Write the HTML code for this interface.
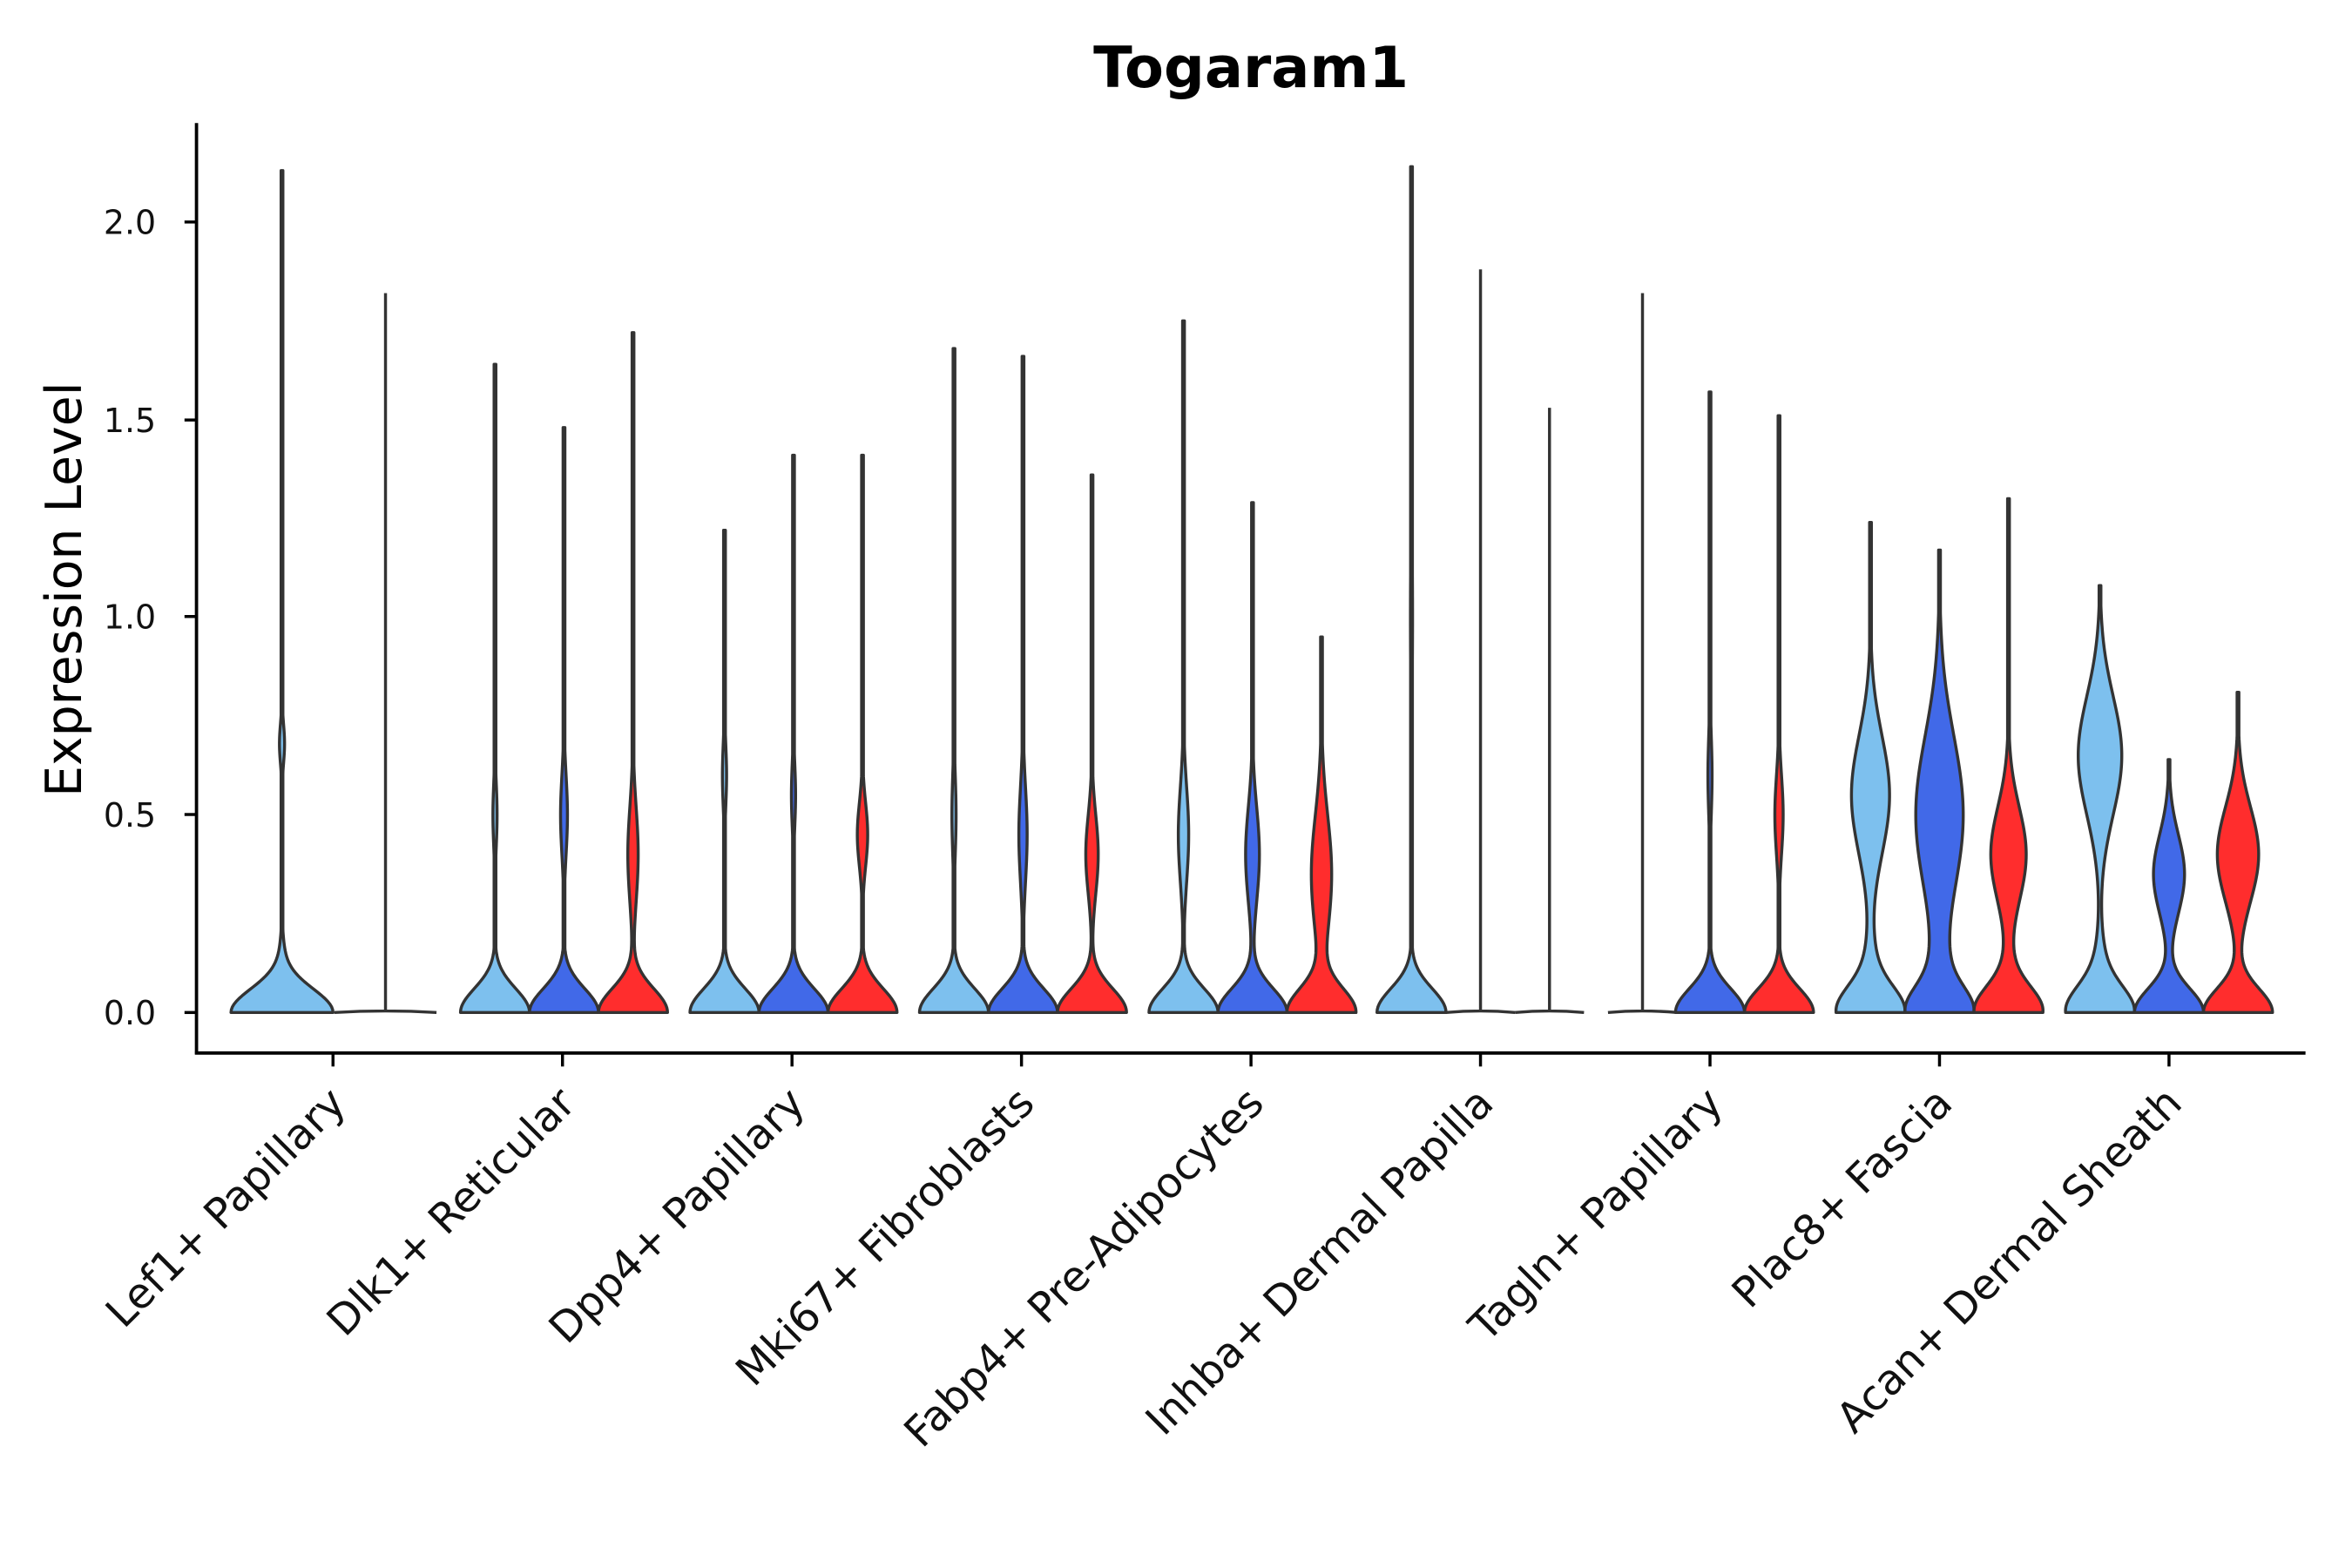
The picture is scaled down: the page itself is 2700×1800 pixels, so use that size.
<!DOCTYPE html>
<html><head><meta charset="utf-8"><style>html,body{margin:0;padding:0;background:#fff}svg{display:block}</style></head>
<body>
<svg id="s" width="2700" height="1800" viewBox="0 0 1568 1045.33" xmlns="http://www.w3.org/2000/svg" font-family="'DejaVu Sans', 'Liberation Sans', sans-serif">
<rect width="1568" height="1046" fill="#fff"/>
<g id="v"></g>
<line x1="131" y1="82" x2="131" y2="703" stroke="#000" stroke-width="2.2"/>
<line x1="130" y1="702" x2="1537" y2="702" stroke="#000" stroke-width="2.2"/>
<g stroke="#000" stroke-width="2">
<line x1="123" y1="675" x2="131" y2="675"/><line x1="123" y1="543" x2="131" y2="543"/><line x1="123" y1="411" x2="131" y2="411"/><line x1="123" y1="280" x2="131" y2="280"/><line x1="123" y1="148" x2="131" y2="148"/>
</g>
<g font-size="22" text-anchor="end" fill="#111">
<text x="104" y="683">0.0</text><text x="104" y="551">0.5</text><text x="104" y="419">1.0</text><text x="104" y="288">1.5</text><text x="104" y="156">2.0</text>
</g>
<text x="834" y="58" font-size="38" font-weight="bold" text-anchor="middle">Togaram1</text>
<text transform="translate(54,393) rotate(-90)" font-size="33" text-anchor="middle">Expression Level</text>
<g id="xt" font-size="28" text-anchor="end" fill="#111"></g>
</svg>
<script>
const ns="http://www.w3.org/2000/svg";
const LB="#7DC0EE",B="#4169E8",R="#FF2D2D";
const y0=675,k=263.5;
function V(cx,col,max,comps,hw){
  comps=[[0,0.06,1]].concat(comps||[]);
  const n=300,ys=[],ws=[];let mx=0;
  for(let i=0;i<=n;i++){const y=max*i/n;let w=0;for(const c of comps)w+=c[2]*Math.exp(-0.5*((y-c[0])/c[1])**2);ys.push(y);ws.push(w);if(w>mx)mx=w;}
  let L=[],Rr=[];
  for(let i=0;i<=n;i++){const w=Math.max(ws[i]/mx*hw,0.6);const py=y0-ys[i]*k;L.push((cx-w).toFixed(2)+","+py.toFixed(2));Rr.unshift((cx+w).toFixed(2)+","+py.toFixed(2));}
  const p=document.createElementNS(ns,"path");
  p.setAttribute("d","M"+L.join("L")+"L"+Rr.join("L")+"Z");
  p.setAttribute("fill",col);p.setAttribute("stroke","#333");p.setAttribute("stroke-width","2");p.setAttribute("stroke-linejoin","round");
  document.getElementById("v").appendChild(p);
}
function F(cx,max,hw){
  const g=document.getElementById("v");
  const p=document.createElementNS(ns,"path");
  p.setAttribute("d",`M${cx-hw},${y0}Q${cx},${y0-2} ${cx+hw},${y0}M${cx},${y0}L${cx},${y0-max*k}`);
  p.setAttribute("fill","none");p.setAttribute("stroke","#333");p.setAttribute("stroke-width","2");
  g.appendChild(p);
}
const h=23;
V(188,LB,2.13,[[0.68,0.05,0.05],[0.15,0.05,0.03]],34);F(257,1.82,34);
V(330,LB,1.64,[[0.5,0.08,0.06]],h);V(376,B,1.48,[[0.5,0.1,0.1]],h);V(422,R,1.72,[[0.4,0.12,0.15]],h);
V(483,LB,1.22,[[0.6,0.08,0.06]],h);V(529,B,1.41,[[0.55,0.08,0.06]],h);V(575,R,1.41,[[0.45,0.08,0.15]],h);
V(636,LB,1.68,[[0.5,0.1,0.06]],h);V(682,B,1.66,[[0.45,0.12,0.12]],h);V(728,R,1.36,[[0.4,0.1,0.18]],h);
V(789,LB,1.75,[[0.45,0.12,0.15]],h);V(835,B,1.29,[[0.4,0.12,0.2]],h);V(881,R,0.95,[[0.35,0.15,0.3]],h);
V(941,LB,2.14,[[1.0,0.2,0.03]],h);F(987,1.88,h);F(1033,1.53,h);
F(1095,1.82,h);V(1140,B,1.57,[[0.6,0.1,0.06]],h);V(1186,R,1.51,[[0.5,0.1,0.12]],h);
V(1247,LB,1.24,[[0.55,0.15,0.7],[0.05,0.1,0.3]],h);V(1293,B,1.17,[[0.5,0.2,0.9],[0.05,0.1,0.3]],h);V(1339,R,1.30,[[0.4,0.12,0.6],[0.05,0.08,0.2]],h);
V(1400,LB,1.08,[[0.65,0.15,0.8],[0.05,0.1,0.3]],h);V(1446,B,0.64,[[0.35,0.1,0.45]],h);V(1492,R,0.81,[[0.4,0.12,0.6]],h);
const labs=["Lef1+ Papillary","Dlk1+ Reticular","Dpp4+ Papillary","Mki67+ Fibroblasts","Fabp4+ Pre-Adipocytes","Inhba+ Dermal Papilla","Tagln+ Papillary","Plac8+ Fascia","Acan+ Dermal Sheath"];
const xt=document.getElementById("xt");
labs.forEach((t,i)=>{const x=222+i*153;
  const l=document.createElementNS(ns,"line");l.setAttribute("x1",x);l.setAttribute("x2",x);l.setAttribute("y1",702);l.setAttribute("y2",711);l.setAttribute("stroke","#000");l.setAttribute("stroke-width","2");xt.appendChild(l);
  const e=document.createElementNS(ns,"text");e.setAttribute("transform",`translate(${x+10},${737}) rotate(-45)`);e.textContent=t;xt.appendChild(e);});
</script>
</body></html>
